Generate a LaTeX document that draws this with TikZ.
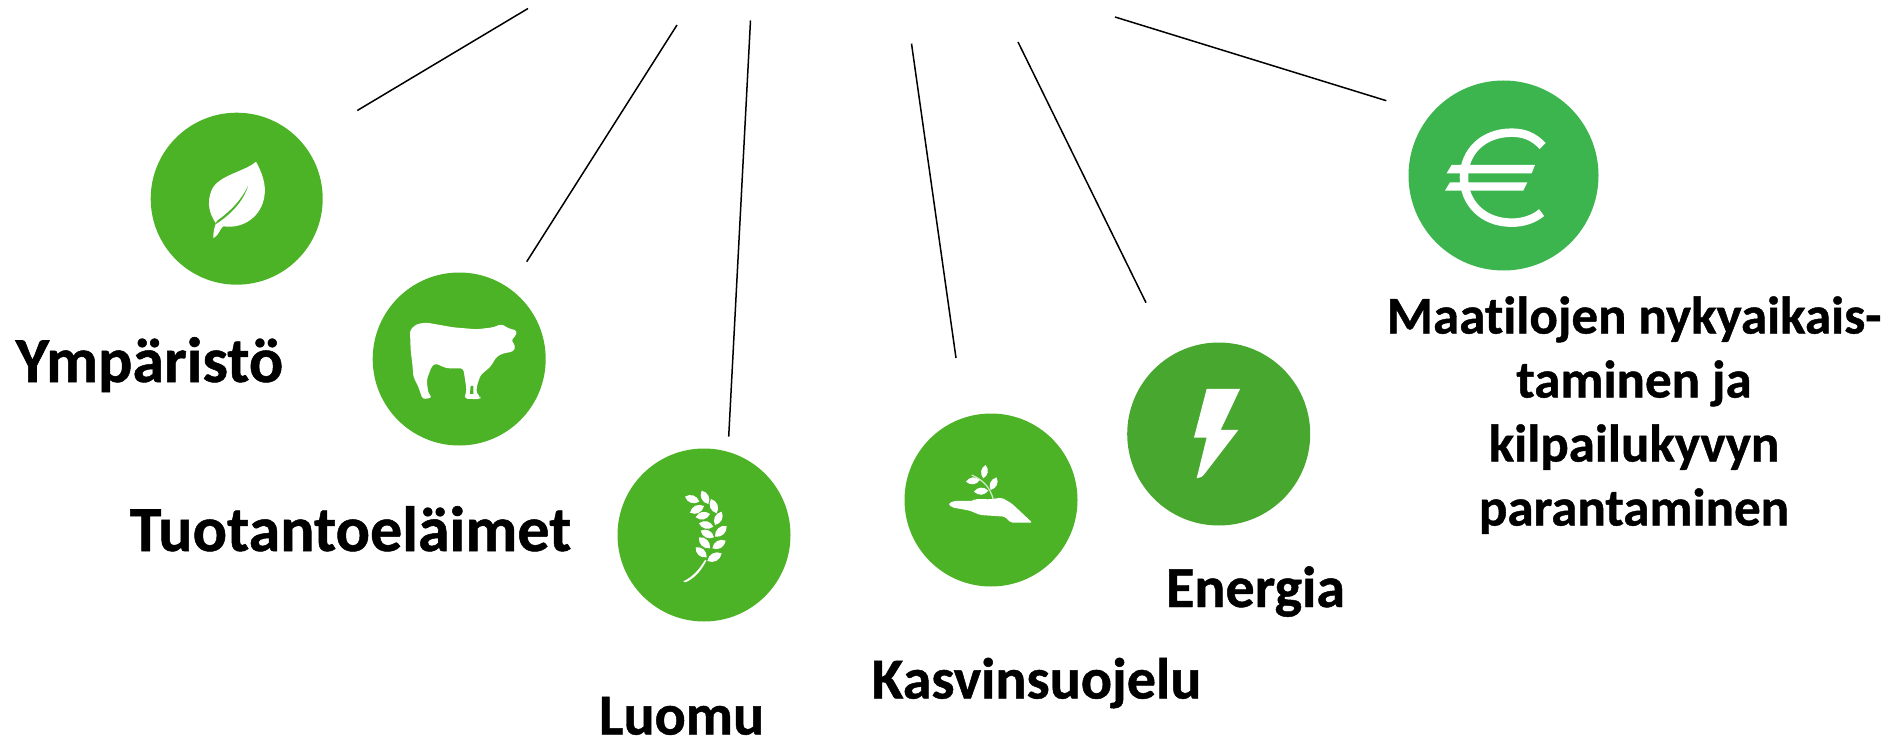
\documentclass[tikz,border=0pt]{standalone}
\usepackage{fontspec}
\setmainfont[RawFeature={-liga},BoldFeatures={RawFeature={-liga},FakeBold=0.8}]{Carlito}
\definecolor{gmain}{HTML}{4CB226}
\definecolor{gbolt}{HTML}{48A72F}
\definecolor{geuro}{HTML}{3CB54F}
\tikzset{
  badge/.style={circle,inner sep=0pt,outer sep=0pt,fill=#1},
  leader/.style={draw=black,line width=1.5pt},
  biglabel/.style={inner sep=0pt,outer sep=0pt,anchor=base,font=\bfseries\fontsize{#1}{#1}\selectfont,text=black},
  glyph/.style={fill=white,draw=none},
  zoomone/.style={shift={(130,100)},x=0.3333pt,y=-0.3333pt},
  zoomtwo/.style={shift={(600,400)},x=0.3333pt,y=-0.3333pt},
  zoomthree/.style={shift={(1110,60)},x=0.3333pt,y=-0.3333pt},
}
\begin{document}
\begin{tikzpicture}[x=1pt,y=-1pt]
\useasboundingbox (0,0) rectangle (1898,738);
% badges
\node[badge=gmain,minimum size=172pt] (leaf) at (236.7,198.7) {};
\node[badge=gmain,minimum size=173pt] (cow) at (459.2,359) {};
\node[badge=gmain,minimum size=173pt] (wheat) at (704,535) {};
\node[badge=gmain,minimum size=173pt] (hand) at (991,500) {};
\node[badge=gbolt,minimum size=183pt] (bolt) at (1218.7,434) {};
\node[badge=geuro,minimum size=190pt] (euro) at (1503.5,175.5) {};
% leaders
\coordinate (l1a) at (357.3,110.5); \coordinate (l1b) at (528,8.5);
\coordinate (l2a) at (526.7,261.7); \coordinate (l2b) at (677,25);
\coordinate (l3a) at (728.7,436.7); \coordinate (l3b) at (750.5,20.5);
\coordinate (l4a) at (956,358);     \coordinate (l4b) at (911.5,43.6);
\coordinate (l5a) at (1146,302.7);  \coordinate (l5b) at (1018,42);
\coordinate (l6a) at (1386.3,100.7);\coordinate (l6b) at (1115,17);
\draw[leader] (l1a) -- (l1b);
\draw[leader] (l2a) -- (l2b);
\draw[leader] (l3a) -- (l3b);
\draw[leader] (l4a) -- (l4b);
\draw[leader] (l5a) -- (l5b);
\draw[leader] (l6a) -- (l6b);
% leaf icon
\begin{scope}[zoomone]
\path[glyph] (378,185) .. controls (395,215) and (410,255) .. (403,290)
  .. controls (395,345) and (345,388) .. (280,379)
  .. controls (270,385) and (268,405) .. (250,415)
  .. controls (250,395) and (252,385) .. (258,370)
  .. controls (240,345) and (228,310) .. (245,270)
  .. controls (265,225) and (345,215) .. (378,185) -- cycle;
\path[fill=gmain] (354,258) .. controls (335,300) and (300,335) .. (262,362)
  .. controls (258,368) and (256,372) .. (258,372)
  .. controls (300,345) and (340,305) .. (354,258) -- cycle;
% cow icon
\path[glyph,rounded corners=3pt] (840,690) -- (860,672) -- (890,668) -- (970,682) -- (1040,688) -- (1090,682) -- (1115,672) -- (1135,685) -- (1162,692) -- (1155,712) -- (1143,718) -- (1157,740) -- (1150,755) -- (1120,760) -- (1100,770) -- (1082,800) -- (1052,825) -- (1040,860) -- (1040,882) -- (1052,890) -- (1050,898) -- (1003,896) -- (1010,870) -- (1000,805) -- (950,805) -- (915,790) -- (905,800) -- (890,840) -- (895,880) -- (907,893) -- (878,898) -- (865,860) -- (850,830) -- (848,800) -- (842,750) -- cycle;
\path[fill=gmain] (1022,858) -- (1030,858) -- (1030,882) -- (1020,882) -- cycle;
\end{scope}
% wheat icon
\begin{scope}[zoomtwo]
\path[glyph] (250,544) .. controls (280,530) and (300,505) .. (315,480) -- (319,482) .. controls (305,510) and (285,535) .. (256,547) -- cycle;
\foreach \ax/\ay/\bx/\by in {255/290/298/305,305/272/325/312,333/297/350/340,270/338/312/318,287/352/330/342,365/335/345/375,297/370/340/380,380/378/345/410,302/392/342/412,377/422/337/445,297/412/330/445,365/460/322/483,287/442/320/472}{
  \path[glyph] (\ax,\ay) to[out=-52,in=-128,relative,looseness=1.1] (\bx,\by) to[out=-52,in=-128,relative,looseness=1.1] (\ax,\ay) -- cycle;
}
% hand icon
\foreach \ax/\ay/\bx/\by in {1157/195/1150/235,1098/245/1140/240,1190/232/1172/270,1122/275/1165/272}{
  \path[glyph] (\ax,\ay) to[out=-50,in=-130,relative,looseness=1.1] (\bx,\by) to[out=-50,in=-130,relative,looseness=1.1] (\ax,\ay) -- cycle;
}
\draw[white!75!gmain,line width=1.2pt] (1115,225) .. controls (1150,240) and (1170,262) .. (1180,298);
\path[glyph,rounded corners=2pt] (1045,312) -- (1060,303) -- (1120,303) -- (1125,297) -- (1170,298) -- (1205,293) -- (1235,310) -- (1297,368) -- (1232,368) -- (1215,350) -- (1140,345) -- (1110,332) -- (1055,322) -- cycle;
\end{scope}
% bolt and euro icons
\begin{scope}[zoomthree]
\path[glyph] (290,987) -- (390,987) -- (332,1110) -- (385,1110) -- (285,1240) .. controls (278,1250) and (270,1255) .. (260,1255) -- (290,1133) -- (252,1133) -- cycle;
\draw[white,line width=8.5pt] (1298,258) .. controls (1270,228) and (1240,218) .. (1205,218)
  .. controls (1120,218) and (1062,275) .. (1062,352)
  .. controls (1062,430) and (1120,488) .. (1205,488)
  .. controls (1240,488) and (1270,478) .. (1295,458);
\path[glyph] (1025,315) -- (1275,315) -- (1265,340) -- (1010,340) -- cycle;
\path[glyph] (1020,367) -- (1252,367) -- (1240,392) -- (1005,392) -- cycle;
\end{scope}
% labels
\node[biglabel=64] (tymp) at (149.5,382) {Ympäristö};
\node[biglabel=64] (ttuo) at (350.5,551) {Tuotantoeläimet};
\node[biglabel=58] (tluo) at (681.5,734.5) {Luomu};
\node[biglabel=58] (tkas) at (1036.5,698.5) {Kasvinsuojelu};
\node[biglabel=58] (tene) at (1255.5,607) {Energia};
\node[biglabel=53] (tm1) at (1634,333.5) {Maatilojen nykyaikais-};
\node[biglabel=53] (tm2) at (1634,397.5) {taminen ja};
\node[biglabel=53] (tm3) at (1634,461.5) {kilpailukyvyn};
\node[biglabel=53] (tm4) at (1634,525.5) {parantaminen};
\end{tikzpicture}
\end{document}
